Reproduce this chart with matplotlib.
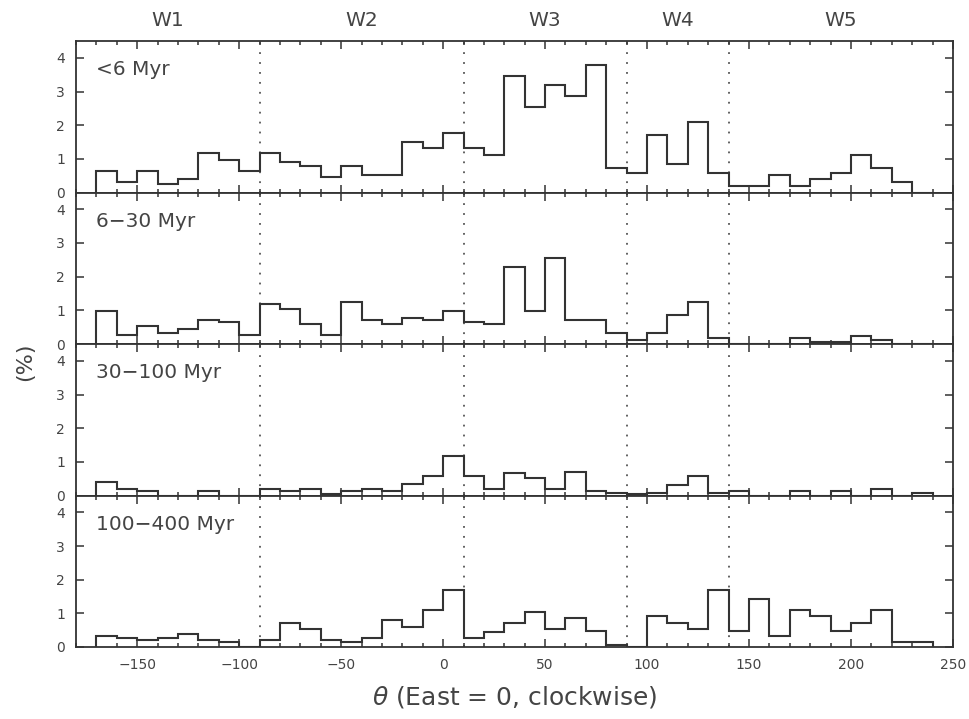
import numpy as np
import matplotlib
matplotlib.use("Agg")
import matplotlib.pyplot as plt
from matplotlib.ticker import MultipleLocator

plt.rcParams['font.family'] = ['DejaVu Sans']

# bin edges in theta (deg), 10 deg bins
theta_edges = np.arange(-170, 250, 10)

# percentages per bin, one list per age group
pct_lt6 = [0.65, 0.32, 0.65, 0.25, 0.39, 1.16, 0.98, 0.64, 1.16, 0.90,
           0.78, 0.45, 0.78, 0.52, 0.52, 1.51, 1.31, 1.77, 1.31, 1.11,
           3.46, 2.54, 3.20, 2.87, 3.80, 0.72, 0.59, 1.70, 0.84, 2.09,
           0.59, 0.20, 0.20, 0.52, 0.20, 0.39, 0.59, 1.11, 0.72, 0.32, 0.0]
pct_6_30 = [0.98, 0.26, 0.52, 0.33, 0.46, 0.71, 0.66, 0.26, 1.18, 1.04,
            0.59, 0.26, 1.25, 0.71, 0.58, 0.78, 0.71, 0.98, 0.66, 0.58,
            2.29, 0.98, 2.54, 0.71, 0.71, 0.34, 0.12, 0.34, 0.86, 1.24,
            0.19, 0.0, 0.0, 0.0, 0.19, 0.07, 0.07, 0.25, 0.12, 0.0, 0.0]
pct_30_100 = [0.40, 0.20, 0.14, 0.0, 0.0, 0.14, 0.0, 0.0, 0.20, 0.14,
              0.20, 0.05, 0.14, 0.20, 0.14, 0.34, 0.58, 1.18, 0.58, 0.20,
              0.66, 0.51, 0.20, 0.71, 0.14, 0.07, 0.05, 0.07, 0.32, 0.58,
              0.07, 0.14, 0.0, 0.0, 0.14, 0.0, 0.14, 0.0, 0.20, 0.0, 0.07]
pct_100_400 = [0.34, 0.27, 0.20, 0.27, 0.40, 0.20, 0.14, 0.0, 0.20, 0.72,
               0.52, 0.20, 0.14, 0.27, 0.79, 0.59, 1.11, 1.69, 0.27, 0.46,
               0.72, 1.05, 0.52, 0.85, 0.47, 0.05, 0.0, 0.92, 0.72, 0.52,
               1.69, 0.47, 1.44, 0.33, 1.11, 0.92, 0.47, 0.72, 1.11, 0.14, 0.14]

panel_labels = ['<6 Myr', '6\u221230 Myr', '30\u2212100 Myr', '100\u2212400 Myr']
panel_data = [pct_lt6, pct_6_30, pct_30_100, pct_100_400]

# region boundaries and names
region_bounds = [-90, 10, 90, 140]
region_names = ['W1', 'W2', 'W3', 'W4', 'W5']
region_centers = [-135, -40, 50, 115, 195]

line_col = '#333333'
text_col = '#444444'

W, H = 969, 719
fig = plt.figure(figsize=(W / 100, H / 100), dpi=100)

left, right = 76 / W, 953 / W
top_px, bot_px = 41, 647
ph = (bot_px - top_px) / 4

axes = []
for i, (vals, lab) in enumerate(zip(panel_data, panel_labels)):
    y0 = 1 - (top_px + (i + 1) * ph) / H
    ax = fig.add_axes([left, y0, right - left, ph / H])
    axes.append(ax)

    ax.stairs(vals, theta_edges, color=line_col, lw=1.5, baseline=0)
    for xb in region_bounds:
        ax.axvline(xb, color='#555555', lw=1.3, ls=(0, (1, 4.5)), zorder=0)

    ax.set_xlim(-180, 250)
    ax.set_ylim(0, 4.5)
    ax.xaxis.set_major_locator(MultipleLocator(50))
    ax.xaxis.set_minor_locator(MultipleLocator(10))
    ax.yaxis.set_major_locator(MultipleLocator(1))
    ax.tick_params(which='both', direction='in', top=True, bottom=True,
                   left=True, right=True, color=line_col, labelcolor=text_col,
                   labelsize=10, width=1.1)
    ax.tick_params(which='major', length=5.5)
    ax.tick_params(which='minor', length=3)
    ax.tick_params(axis='y', which='minor', left=False, right=False)
    ax.tick_params(axis='y', pad=8)
    for s in ax.spines.values():
        s.set_color(line_col)
        s.set_linewidth(1.3)
    if i < 3:
        ax.tick_params(labelbottom=False)
    else:
        ax.tick_params(axis='x', pad=8)

    ax.text(-170, 3.65, lab, fontsize=14.5, color=text_col, va='center', ha='left')

# region names on top
for name, xc in zip(region_names, region_centers):
    axes[0].text(xc, 4.5 + 0.62, name, fontsize=14.5, color=text_col,
                 ha='center', va='center')

fig.text(25 / W, 1 - 362 / H, '(%)', rotation=90, fontsize=16, color=text_col,
         ha='center', va='center')
fig.text((76 + 953) / 2 / W, 1 - 697 / H, r'$\theta$ (East = 0, clockwise)',
         fontsize=18, color=text_col, ha='center', va='center')

fig.savefig('out.png', dpi=100)
